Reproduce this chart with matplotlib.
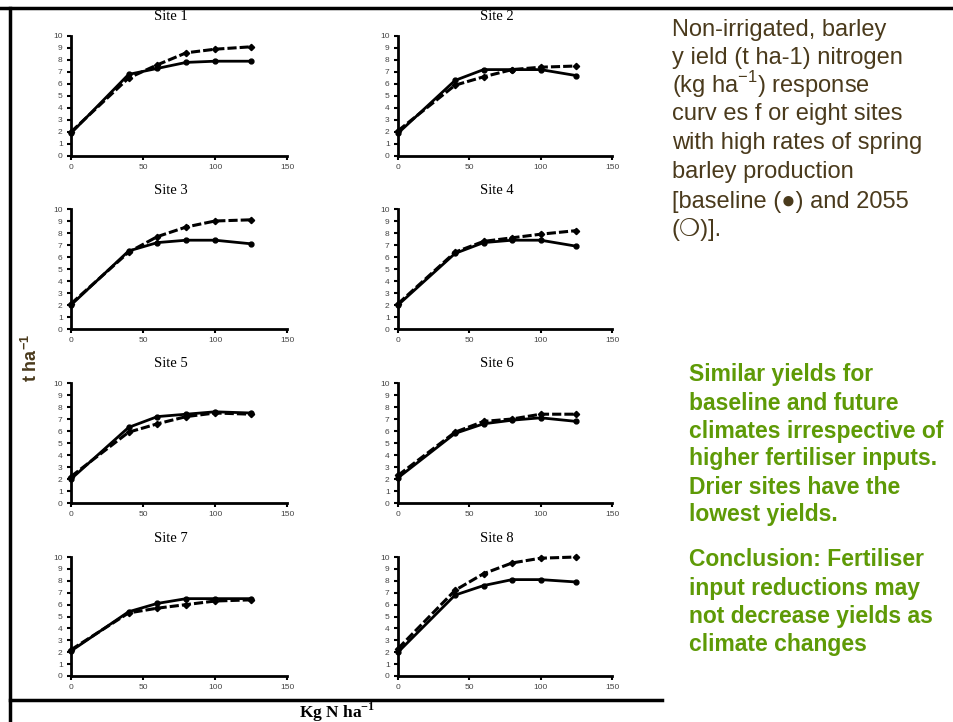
import matplotlib
matplotlib.use("Agg")
import matplotlib.pyplot as plt
from matplotlib.lines import Line2D

# ---------------- data ----------------
nitrogen = [0, 40, 60, 80, 100, 125]
site_names = ["Site 1", "Site 2", "Site 3", "Site 4", "Site 5", "Site 6", "Site 7", "Site 8"]

baseline_s1 = [1.9, 6.8, 7.3, 7.8, 7.9, 7.9]
future_s1 = [2.0, 6.5, 7.6, 8.6, 8.9, 9.1]
baseline_s2 = [1.9, 6.3, 7.2, 7.2, 7.2, 6.7]
future_s2 = [2.1, 5.9, 6.6, 7.2, 7.4, 7.5]
baseline_s3 = [2.0, 6.5, 7.2, 7.4, 7.4, 7.1]
future_s3 = [2.1, 6.4, 7.7, 8.5, 9.0, 9.1]
baseline_s4 = [2.0, 6.3, 7.2, 7.4, 7.4, 6.9]
future_s4 = [2.1, 6.4, 7.3, 7.6, 7.9, 8.2]
baseline_s5 = [2.0, 6.3, 7.2, 7.4, 7.6, 7.5]
future_s5 = [2.2, 5.9, 6.6, 7.2, 7.5, 7.4]
baseline_s6 = [2.1, 5.8, 6.6, 6.9, 7.1, 6.8]
future_s6 = [2.3, 5.9, 6.8, 7.0, 7.4, 7.4]
baseline_s7 = [2.1, 5.4, 6.1, 6.5, 6.5, 6.5]
future_s7 = [2.2, 5.3, 5.7, 6.0, 6.3, 6.4]
baseline_s8 = [2.0, 6.8, 7.6, 8.1, 8.1, 7.9]
future_s8 = [2.3, 7.2, 8.6, 9.5, 9.9, 10.0]

baseline = [baseline_s1, baseline_s2, baseline_s3, baseline_s4,
            baseline_s5, baseline_s6, baseline_s7, baseline_s8]
future = [future_s1, future_s2, future_s3, future_s4,
          future_s5, future_s6, future_s7, future_s8]

x_ticks = [0, 50, 100, 150]
y_ticks = list(range(0, 11))

brown_lines = [
    "Non-irrigated, barley",
    "y ield (t ha-1) nitrogen",
    r"(kg ha$^{\mathregular{-1}}$) response",
    "curv es f or eight sites",
    "with high rates of spring",
    "barley production",
    "[baseline (\u25cf) and 2055",
    "(\u274d)].",
]
green_lines = [
    "Similar yields for",
    "baseline and future",
    "climates irrespective of",
    "higher fertiliser inputs.",
    "Drier sites have the",
    "lowest yields.",
    "Conclusion: Fertiliser",
    "input reductions may",
    "not decrease yields as",
    "climate changes",
]

# ---------------- figure ----------------
W, H = 954, 722
fig = plt.figure(figsize=(W / 100, H / 100), dpi=100)
fig.patch.set_facecolor("white")

def fx(px):
    return px / W

def fy(py):
    return 1 - py / H

col_left = [71, 398]
col_right = [287, 612]
row_top = [36, 209, 383, 557]
row_bot = [156, 329, 503, 676]

for i in range(8):
    r, c = divmod(i, 2)
    x0, x1 = col_left[c], col_right[c]
    y0, y1 = row_top[r], row_bot[r]
    ax = fig.add_axes([fx(x0), fy(y1), fx(x1 - x0), (y1 - y0) / H])
    ax.plot(nitrogen, future[i], color="black", lw=2.2, ls=(0, (3, 1)),
            marker="D", ms=3.2, zorder=3, clip_on=False)
    ax.plot(nitrogen, baseline[i], color="black", lw=2.0, ls="-",
            marker="o", ms=3.5, zorder=4, clip_on=False)
    ax.set_xlim(0, 150)
    ax.set_ylim(0, 10)
    ax.set_xticks(x_ticks)
    ax.set_yticks(y_ticks)
    for s in ["top", "right"]:
        ax.spines[s].set_visible(False)
    for s in ["left", "bottom"]:
        ax.spines[s].set_linewidth(2.0)
    ax.tick_params(axis="both", labelsize=6, labelcolor="#444444",
                   length=3, width=1.5, direction="out", pad=3)
    for lab in ax.get_xticklabels() + ax.get_yticklabels():
        lab.set_family("Liberation Sans")
    ax.set_facecolor("none")
    fig.text(fx((x0 + x1) / 2 - 8), fy(y0 - 19), site_names[i],
             family="Liberation Serif", fontsize=10.5, ha="center", va="center")

# border lines
fig.add_artist(Line2D([0, 1], [fy(8), fy(8)], color="black", lw=2.5))
fig.add_artist(Line2D([fx(10), fx(10)], [fy(8), 0], color="black", lw=2.5))
fig.add_artist(Line2D([fx(10), fx(662)], [fy(700), fy(700)], color="black", lw=2.5))

# axis labels
fig.text(fx(31), fy(358), r"t ha$^{\mathregular{-1}}$", rotation=90,
         family="Liberation Sans", fontweight="bold", fontsize=13,
         color="#4a3a1c", ha="center", va="center")
fig.text(fx(337), fy(712), r"Kg N ha$^{\mathregular{-1}}$",
         family="Liberation Serif", fontweight="bold", fontsize=12.5,
         color="black", ha="center", va="center")

# right-hand text
brown_y = [30, 58, 85, 114, 143, 172, 202, 230]
for t, yy in zip(brown_lines, brown_y):
    fig.text(fx(672), fy(yy), t, family=["Liberation Sans", "DejaVu Sans"],
             fontsize=17, color="#4a3a1c", ha="left", va="center")

green_y = [375, 403, 432, 459, 487, 515, 560, 588, 617, 645]
for t, yy in zip(green_lines, green_y):
    fig.text(fx(689), fy(yy), t, family="Liberation Sans", fontweight="bold",
             fontsize=16.5, color="#5e9a06", ha="left", va="center")

fig.savefig("out.png", dpi=100)
